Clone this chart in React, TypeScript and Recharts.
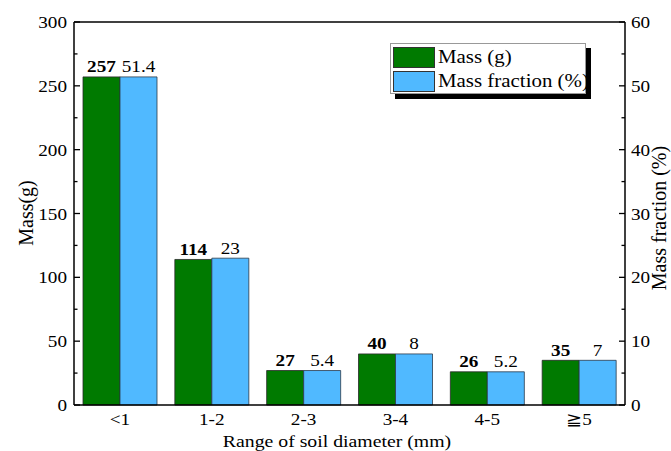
import { BarChart, Bar, XAxis, YAxis, LabelList, Legend, ReferenceLine, Label } from 'recharts';

const categories = ['<1', '1-2', '2-3', '3-4', '4-5', '≧5'];
const massValues = [257, 114, 27, 40, 26, 35];
const fractionValues = [51.4, 23, 5.4, 8, 5.2, 7];
const massTicks = [0, 25, 50, 75, 100, 125, 150, 175, 200, 225, 250, 275, 300];
const fractionTicks = [0, 5, 10, 15, 20, 25, 30, 35, 40, 45, 50, 55, 60];

const data = categories.map((range, i) => ({
    range,
    mass: massValues[i],
    fraction: fractionValues[i],
}));

const FONT = '"Liberation Serif", "Times New Roman", serif';
const SX = 1.13; // the source figure is a bit stretched sideways
const GREEN = '#007a00';
const BLUE = '#50b9ff';

function SText({ x, y, anchor = 'middle', size = 17, bold = false, children }: any) {
    return (
        <text
            transform={`translate(${x},${y}) scale(${SX},1)`}
            textAnchor={anchor}
            fontFamily={FONT}
            fontSize={size}
            fontWeight={bold ? 'bold' : 'normal'}
            fill="#000"
        >
            {children}
        </text>
    );
}

const LeftTick = ({ x, y, payload }: any) => {
    const major = payload.value % 50 === 0;
    return (
        <g>
            <line x1={x} x2={x + (major ? 6 : 3.5)} y1={y} y2={y} stroke="#000" strokeWidth={1.3} />
            {major && <SText x={x - 7} y={y + 6} anchor="end">{payload.value}</SText>}
        </g>
    );
};

const RightTick = ({ x, y, payload }: any) => {
    const major = payload.value % 10 === 0;
    return (
        <g>
            <line x1={x - (major ? 6 : 3.5)} x2={x} y1={y} y2={y} stroke="#000" strokeWidth={1.3} />
            {major && <SText x={x + 6} y={y + 6} anchor="start">{payload.value}</SText>}
        </g>
    );
};

const BottomTick = ({ x, y, payload }: any) => (
    <SText x={x} y={y + 20}>{payload.value}</SText>
);

const MassLabel = (p: any) => (
    <SText x={p.x + p.width / 2} y={p.y - 4.5} bold>{p.value}</SText>
);

const FractionLabel = (p: any) => (
    <SText x={p.x + p.width / 2} y={p.y - 4.5}>{p.value}</SText>
);

const legendItems = [
    { name: 'Mass (g)', color: GREEN },
    { name: 'Mass fraction (%)', color: BLUE },
];

const LegendBox = () => (
    <div
        style={{
            position: 'relative',
            width: 196,
            height: 51,
            boxSizing: 'border-box',
            background: '#fff',
            border: '1px solid #999',
            boxShadow: '5px 5px 0 #000',
            fontFamily: FONT,
        }}
    >
        {legendItems.map((item, i) => (
            <div key={item.name}>
                <div
                    style={{
                        position: 'absolute',
                        left: 2,
                        top: 3 + i * 24,
                        width: 42,
                        height: 21,
                        boxSizing: 'border-box',
                        background: item.color,
                        border: '1px solid #333',
                    }}
                />
                <div
                    style={{
                        position: 'absolute',
                        left: 47,
                        top: 1 + i * 24,
                        height: 24,
                        lineHeight: '24px',
                        fontSize: 18.5,
                        whiteSpace: 'nowrap',
                        transform: `scaleX(${SX})`,
                        transformOrigin: 'left center',
                    }}
                >
                    {item.name}
                </div>
            </div>
        ))}
    </div>
);

export default function App() {
    return (
        <div style={{ position: 'absolute', left: 0, top: 0, width: 671, height: 451, background: '#fff' }}>
            <BarChart
                width={671}
                height={451}
                data={data}
                margin={{ top: 22, right: 0, bottom: 0, left: 0 }}
                barSize={37}
                barGap={0}
            >
                <XAxis
                    dataKey="range"
                    height={46}
                    tickLine={false}
                    tickSize={0}
                    tickMargin={0}
                    tick={<BottomTick />}
                    interval={0}
                    axisLine={{ stroke: '#000', strokeWidth: 1.5 }}
                >
                    <Label
                        content={() => (
                            <SText x={337} y={447} size={17.5}>Range of soil diameter (mm)</SText>
                        )}
                    />
                </XAxis>
                <YAxis
                    yAxisId="mass"
                    orientation="left"
                    width={74}
                    domain={[0, 300]}
                    ticks={massTicks}
                    interval={0}
                    tickLine={false}
                    tickSize={0}
                    tickMargin={0}
                    tick={<LeftTick />}
                    axisLine={{ stroke: '#000', strokeWidth: 1.5 }}
                >
                    <Label
                        content={() => (
                            <text
                                x={33}
                                y={213}
                                transform="rotate(-90 33 213)"
                                textAnchor="middle"
                                fontFamily={FONT}
                                fontSize={20}
                                fill="#000"
                            >
                                Mass(g)
                            </text>
                        )}
                    />
                </YAxis>
                <YAxis
                    yAxisId="fraction"
                    orientation="right"
                    width={46}
                    domain={[0, 60]}
                    ticks={fractionTicks}
                    interval={0}
                    tickLine={false}
                    tickSize={0}
                    tickMargin={0}
                    tick={<RightTick />}
                    axisLine={{ stroke: '#000', strokeWidth: 1.5 }}
                >
                    <Label
                        content={() => (
                            <text
                                x={666}
                                y={218}
                                transform="rotate(-90 666 218)"
                                textAnchor="middle"
                                fontFamily={FONT}
                                fontSize={20}
                                fill="#000"
                            >
                                Mass fraction (%)
                            </text>
                        )}
                    />
                </YAxis>
                <ReferenceLine yAxisId="mass" y={300} stroke="#000" strokeWidth={1.5} />
                <Legend
                    layout="vertical"
                    align="center"
                    verticalAlign="middle"
                    content={<LegendBox />}
                    wrapperStyle={{ left: 390, top: 43, width: 196, height: 51 }}
                />
                <Bar
                    yAxisId="mass"
                    dataKey="mass"
                    name="Mass (g)"
                    fill={GREEN}
                    stroke="#2a2a2a"
                    strokeWidth={0.8}
                    isAnimationActive={false}
                >
                    <LabelList dataKey="mass" content={MassLabel} />
                </Bar>
                <Bar
                    yAxisId="fraction"
                    dataKey="fraction"
                    name="Mass fraction (%)"
                    fill={BLUE}
                    stroke="#2a3a4a"
                    strokeWidth={0.8}
                    isAnimationActive={false}
                >
                    <LabelList dataKey="fraction" content={FractionLabel} />
                </Bar>
            </BarChart>
        </div>
    );
}
